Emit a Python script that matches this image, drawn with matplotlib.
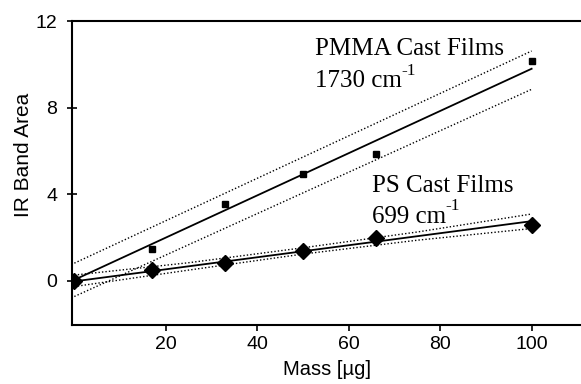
import matplotlib
matplotlib.use("Agg")
import matplotlib.pyplot as plt

mass = [0, 17, 33, 50, 66, 100]
pmma_area = [0.0, 1.46, 3.53, 4.93, 5.87, 10.15]
ps_area = [0.0, 0.51, 0.82, 1.40, 2.00, 2.60]

# fit lines (end points) and confidence bands
fit_x = [0, 100]
pmma_fit = [0.05, 9.8]
pmma_upper = [0.82, 10.62]
pmma_lower = [-0.72, 8.85]
ps_fit = [-0.02, 2.76]

band_x = [0, 25, 50, 75, 100]
ps_upper = [0.27, 0.84, 1.53, 2.26, 3.09]
ps_lower = [-0.26, 0.50, 1.24, 1.88, 2.42]

xticks = [20, 40, 60, 80, 100]
yticks = [0, 4, 8, 12]

sans = ['Liberation Sans', 'DejaVu Sans']
serif = ['Liberation Serif', 'DejaVu Serif']

fig = plt.figure(figsize=(5.81, 3.84), dpi=100)
ax = fig.add_axes([0.124, 0.154, 0.876, 0.791])

dots = (0, (1, 1.5))
ax.plot(fit_x, pmma_fit, color='black', lw=1.3)
ax.plot(fit_x, pmma_upper, color='black', lw=1.0, ls=dots)
ax.plot(fit_x, pmma_lower, color='black', lw=1.0, ls=dots)
ax.plot(fit_x, ps_fit, color='black', lw=1.3)
ax.plot(band_x, ps_upper, color='black', lw=1.0, ls=dots)
ax.plot(band_x, ps_lower, color='black', lw=1.0, ls=dots)

ax.plot(mass, pmma_area, 's', color='black', ms=4.5, ls='none')
ax.plot(mass, ps_area, 'D', color='black', ms=8.5, ls='none')


def label(x, y, main, sup=None):
    t = ax.text(x, y, main, family=serif, fontsize=18, va='baseline')
    if sup:
        ax.annotate(sup, xy=(1, 0.62), xycoords=t, family=serif,
                    fontsize=12.5, va='bottom', ha='left')


label(52.6, 10.43, 'PMMA Cast Films')
label(52.6, 8.95, '1730 cm', '-1')
label(65.0, 4.1, 'PS Cast Films')
label(65.0, 2.69, '699 cm', '-1')

ax.set_xlim(-0.5, 110.8)
ax.set_ylim(-2.03, 12)
ax.set_xticks(xticks)
ax.set_yticks(yticks)
ax.set_xticklabels([str(t) for t in xticks], family=sans, fontsize=14)
ax.set_yticklabels([str(t) for t in yticks], family=sans, fontsize=14)
ax.tick_params(axis='x', direction='out', length=4, width=1.2, pad=4)
ax.tick_params(axis='y', direction='inout', length=7, width=1.2, pad=7)

ax.set_xlabel('Mass [µg]', family=sans, fontsize=14.5, labelpad=5)
ax.set_ylabel('IR Band Area', family=sans, fontsize=15)
ax.yaxis.set_label_coords(-0.077, 0.56)

ax.spines['right'].set_visible(False)
for s in ['left', 'bottom', 'top']:
    ax.spines[s].set_linewidth(1.5)

fig.savefig('out.png', dpi=100)
